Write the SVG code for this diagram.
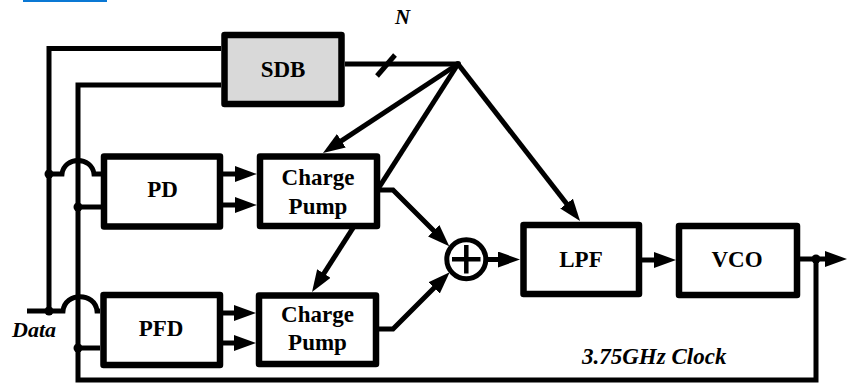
<svg xmlns="http://www.w3.org/2000/svg" width="848" height="384" viewBox="0 0 848 384">
<style>
.box{fill:#fff;stroke:#000;stroke-width:6.5;stroke-linejoin:round}
.w{fill:none;stroke:#000;stroke-width:5;stroke-linejoin:miter}
.a{marker-end:url(#ah)}
.t{font-family:"Liberation Serif","Times New Roman",serif;font-weight:bold;font-size:23px;text-anchor:middle;fill:#000}
.i{font-family:"Liberation Serif","Times New Roman",serif;font-weight:bold;font-style:italic;fill:#000}
.dot{fill:#000}
</style>
<defs>
<marker id="ah" markerUnits="userSpaceOnUse" viewBox="0 0 22 16" refX="10" refY="8" markerWidth="22" markerHeight="16" orient="auto">
<path d="M0,0 L22,8 L0,16 Z" fill="#000"/>
</marker>
</defs>
<rect x="23" y="0" width="84" height="2" fill="#0a78d4"/>
<g id="connectors">
<path class="w" d="M221,48.5 H49 V311"/>
<path class="w" d="M221,85 H78 V380 H816 V259"/>
<path class="w" d="M49,174 H62 C64,156 92,156 94,174 H101"/>
<path class="w" d="M27,311 H63 C65,292 95,292 97,311 H100"/>
<path class="w" d="M78,207 H101"/>
<path class="w" d="M78,348 H100"/>
<path class="w" d="M345,64 H458"/>
<path class="w" d="M377,76 L395,55"/>
<path class="w a" d="M458,64 L333,146.3"/>
<path class="w a" d="M458,64 L318.5,281.9"/>
<path class="w a" d="M458,64 L572.7,211.5"/>
<path class="w a" d="M220,174 H245"/>
<path class="w a" d="M220,205 H245"/>
<path class="w a" d="M220,313 H244"/>
<path class="w a" d="M220,343 H244"/>
<path class="w a" d="M377,190 H393 L440.8,237.8"/>
<path class="w a" d="M376,329 H393 L441.2,280.8"/>
<path class="w a" d="M486,259.5 H508"/>
<path class="w a" d="M640,260 H664"/>
<path class="w a" d="M798,259 H835"/>
<circle class="dot" cx="49" cy="174" r="4.5"/>
<circle class="dot" cx="78" cy="207" r="4.5"/>
<circle class="dot" cx="49" cy="311" r="4.5"/>
<circle class="dot" cx="78" cy="348" r="4.5"/>
<circle class="dot" cx="816" cy="259" r="4.5"/>
<circle class="dot" cx="458" cy="64" r="3"/>
</g>
<g id="SDB">
<rect class="box" x="224.5" y="35" width="117" height="69" style="fill:#d9d9d9"/>
<text class="t" x="283" y="77">SDB</text>
</g>
<g id="PD">
<rect class="box" x="104" y="156.5" width="116" height="70"/>
<text class="t" x="162.5" y="197">PD</text>
</g>
<g id="CP1">
<rect class="box" x="260" y="156.5" width="117" height="69.5"/>
<text class="t" x="318" y="185">Charge</text>
<text class="t" x="318" y="213.5">Pump</text>
</g>
<g id="PFD">
<rect class="box" x="103.5" y="295" width="116.5" height="70"/>
<text class="t" x="161" y="336">PFD</text>
</g>
<g id="CP2">
<rect class="box" x="259" y="295.5" width="117" height="68.5"/>
<text class="t" x="317.5" y="322">Charge</text>
<text class="t" x="317.5" y="350">Pump</text>
</g>
<g id="SUM">
<circle cx="466.3" cy="259.3" r="19.5" fill="#fff" stroke="#000" stroke-width="5"/>
<path d="M452,259.3 H480.5 M466.3,245 V273.5" stroke="#000" stroke-width="4.5" fill="none"/>
</g>
<g id="LPF">
<rect class="box" x="523.5" y="225" width="115.5" height="69"/>
<text class="t" x="581" y="267">LPF</text>
</g>
<g id="VCO">
<rect class="box" x="679" y="226" width="118" height="69"/>
<text class="t" x="737" y="267">VCO</text>
</g>
<g id="labels">
<text class="i" x="402.5" y="24" font-size="21" text-anchor="middle">N</text>
<text class="i" x="12" y="337" font-size="22">Data</text>
<text class="i" x="582" y="364" font-size="23">3.75GHz Clock</text>
</g>
</svg>
